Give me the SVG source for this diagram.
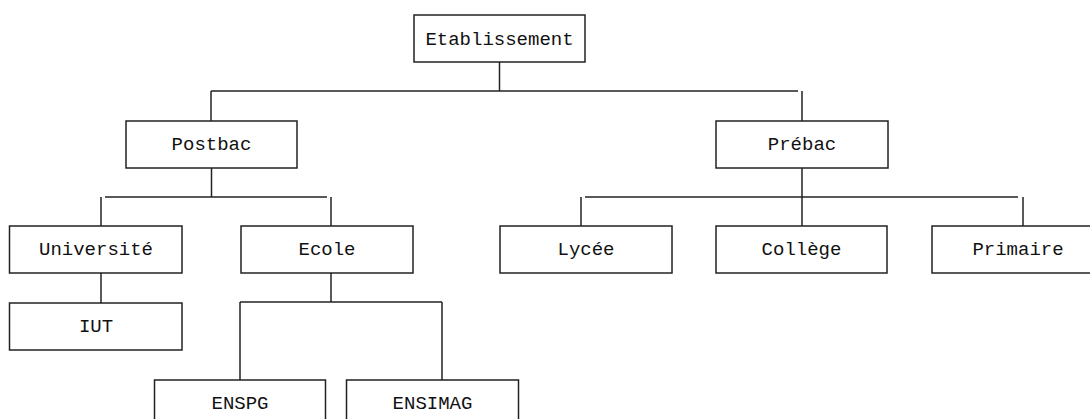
<svg xmlns="http://www.w3.org/2000/svg" width="1090" height="419" viewBox="0 0 1090 419">
<style>
.box{fill:#fff;stroke:#222;stroke-width:1.5}
.lbl{font-family:"Liberation Mono","Courier New",monospace;font-size:19px;fill:#111;text-anchor:middle}
.con{stroke:#222;stroke-width:1.5;fill:none}
</style>
<rect width="1090" height="419" fill="#fff"/>
<g id="connectors" class="con">
<line x1="499.5" y1="62" x2="499.5" y2="91"/>
<line x1="211" y1="91" x2="798" y2="91"/>
<line x1="211" y1="91" x2="211" y2="121"/>
<line x1="802" y1="91" x2="802" y2="121"/>
<line x1="211.5" y1="168" x2="211.5" y2="197"/>
<line x1="105" y1="197" x2="327" y2="197"/>
<line x1="101" y1="197" x2="101" y2="226"/>
<line x1="331" y1="197" x2="331" y2="226"/>
<line x1="101" y1="273" x2="101" y2="303"/>
<line x1="331" y1="273" x2="331" y2="302"/>
<line x1="240" y1="302" x2="442" y2="302"/>
<line x1="240" y1="302" x2="240" y2="380"/>
<line x1="442" y1="302" x2="442" y2="380"/>
<line x1="802" y1="168" x2="802" y2="226"/>
<line x1="585" y1="197" x2="1018" y2="197"/>
<line x1="581" y1="197" x2="581" y2="226"/>
<line x1="1023" y1="197" x2="1023" y2="226"/>
</g>
<g id="etablissement"><rect class="box" x="414" y="15" width="171" height="47"/><text class="lbl" x="499.5" y="44.5">Etablissement</text></g>
<g id="postbac"><rect class="box" x="126" y="121" width="171" height="47"/><text class="lbl" x="211.5" y="150">Postbac</text></g>
<g id="prebac"><rect class="box" x="716" y="121" width="172" height="47"/><text class="lbl" x="802" y="150">Prébac</text></g>
<g id="universite"><rect class="box" x="9.5" y="226" width="172.5" height="47"/><text class="lbl" x="96" y="255">Université</text></g>
<g id="ecole"><rect class="box" x="241" y="226" width="172" height="47"/><text class="lbl" x="327" y="255">Ecole</text></g>
<g id="lycee"><rect class="box" x="500" y="226" width="172" height="47"/><text class="lbl" x="586" y="255">Lycée</text></g>
<g id="college"><rect class="box" x="716" y="226" width="171" height="47"/><text class="lbl" x="801.5" y="255">Collège</text></g>
<g id="primaire"><rect class="box" x="932" y="226" width="172" height="47"/><text class="lbl" x="1018" y="255">Primaire</text></g>
<g id="iut"><rect class="box" x="9.5" y="303" width="172.5" height="47"/><text class="lbl" x="96" y="332">IUT</text></g>
<g id="enspg"><rect class="box" x="154.5" y="380" width="171" height="47"/><text class="lbl" x="240" y="409">ENSPG</text></g>
<g id="ensimag"><rect class="box" x="346.5" y="380" width="172" height="47"/><text class="lbl" x="432.5" y="409">ENSIMAG</text></g>
</svg>
